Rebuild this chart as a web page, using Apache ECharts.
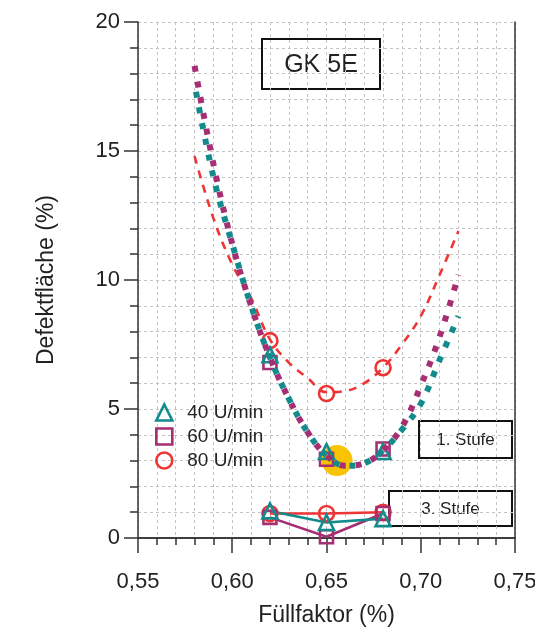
<!DOCTYPE html>
<html>
<head>
<meta charset="utf-8">
<script src="https://cdn.jsdelivr.net/npm/echarts@6/dist/echarts.min.js"></script>
<style>
  html, body { margin: 0; padding: 0; background: #fff; }
  #chart { width: 535px; height: 627px; }
</style>
</head>
<body>
<div id="chart"></div>
<script>
// Füllfaktor values where the samples were taken
const sampleX = [0.62, 0.65, 0.68]

// 1. Stufe measured points
const stufe1_40 = [7.1, 3.35, 3.35]
const stufe1_60 = [6.8, 3.05, 3.45]
const stufe1_80 = [7.65, 5.6, 6.6]

// 3. Stufe measured points
const stufe3_40 = [1.05, 0.6, 0.75]
const stufe3_60 = [0.8, 0.05, 0.95]
const stufe3_80 = [0.95, 0.95, 1.0]

// fitted curves
const fitX = [0.58, 0.59, 0.60, 0.61, 0.62, 0.63, 0.64, 0.65, 0.66, 0.67, 0.68, 0.69, 0.70, 0.71, 0.72]
const fit40 = [17.6, 14.0, 11.4, 9.0, 7.0, 5.4, 4.1, 3.2, 2.8, 2.9, 3.4, 4.2, 5.2, 6.9, 8.6]
const fit60 = [18.3, 14.5, 11.4, 9.0, 7.0, 5.4, 4.1, 3.2, 2.8, 2.9, 3.4, 4.3, 5.9, 7.8, 10.2]
const fit80 = [14.8, 12.4, 10.6, 9.3, 7.7, 6.8, 6.2, 5.65, 5.7, 6.0, 6.6, 7.5, 8.6, 10.2, 11.9]

// highlighted optimum
const optimum = [[0.6556, 3.0]]

const legendNames = ['40 U/min', '60 U/min', '80 U/min']

const TEAL = '#138b8c'
const PURPLE = '#a52f72'
const RED = '#ee3535'
const YELLOW = '#f8c300'
const FONT = '"Liberation Sans", Arial, sans-serif'

const pairs = (xs, ys) => xs.map((x, i) => [x, ys[i]])
const comma = (v, d) => v.toFixed(d).replace('.', ',')

const chart = echarts.init(document.getElementById('chart'))

const gridDash = { color: '#c4c4c4', width: 1, type: [3, 3] }
const frameLine = { color: '#333', width: 1.5 }

const markerStyle = (c) => ({ color: 'transparent', borderColor: c, borderWidth: 2.6, opacity: 1 })

// box with centred label, used for the annotations
const labelBox = (x, y, w, h, text, size) => ({
  type: 'group', z: 10,
  children: [
    { type: 'rect', shape: { x: x, y: y, width: w, height: h },
      style: { fill: '#fff', stroke: '#111', lineWidth: 2 } },
    { type: 'text', x: x + w / 2, y: y + h / 2 + 1,
      style: { text: text, font: size + 'px ' + FONT, fill: '#222',
               align: 'center', verticalAlign: 'middle' } }
  ]
})

const option = {
  animation: false,
  backgroundColor: '#fff',
  textStyle: { fontFamily: FONT },
  grid: { left: 138, right: 20, top: 22, bottom: 89, outerBoundsMode: 'none' },
  legend: {
    data: legendNames,
    orient: 'vertical',
    left: 150,
    top: 398,
    itemWidth: 16,
    itemHeight: 16,
    itemGap: 5,
    itemStyle: { borderWidth: 2.6, opacity: 1 },
    textStyle: { fontSize: 19, color: '#222', fontFamily: FONT, padding: [0, 0, 0, 10] }
  },
  xAxis: [
    {
      type: 'value',
      min: 0.55, max: 0.75, interval: 0.05,
      name: 'Füllfaktor (%)',
      nameLocation: 'middle',
      nameGap: 66,
      nameTextStyle: { fontSize: 23, color: '#222', fontFamily: FONT },
      axisLine: { lineStyle: frameLine },
      axisTick: { show: true, length: 15, lineStyle: frameLine },
      minorTick: { show: true, splitNumber: 5, length: 7, lineStyle: frameLine },
      axisLabel: { fontSize: 22, color: '#222', margin: 33, formatter: (v) => comma(v, 2) },
      splitLine: { show: true, lineStyle: gridDash },
      minorSplitLine: { show: true, lineStyle: gridDash }
    },
    {
      type: 'value', position: 'top',
      min: 0.55, max: 0.75, interval: 0.05,
      axisLine: { show: true, lineStyle: frameLine },
      axisTick: { show: false }, axisLabel: { show: false }, splitLine: { show: false }
    }
  ],
  yAxis: [
    {
      type: 'value',
      min: 0, max: 20, interval: 5,
      name: 'Defektfläche (%)',
      nameLocation: 'middle',
      nameGap: 80,
      nameTextStyle: { fontSize: 23, color: '#222', fontFamily: FONT },
      axisLine: { show: true, lineStyle: frameLine },
      axisTick: { show: true, length: 14, lineStyle: frameLine },
      minorTick: { show: true, splitNumber: 5, length: 8, lineStyle: frameLine },
      axisLabel: { fontSize: 22, color: '#222', margin: 18 },
      splitLine: { show: true, lineStyle: gridDash },
      minorSplitLine: { show: true, lineStyle: gridDash }
    },
    {
      type: 'value', position: 'right',
      min: 0, max: 20, interval: 5,
      axisLine: { show: true, lineStyle: frameLine },
      axisTick: { show: false }, axisLabel: { show: false }, splitLine: { show: false }
    }
  ],
  series: [
    {
      name: 'Optimum',
      type: 'scatter',
      data: optimum,
      symbolSize: 31,
      itemStyle: { color: YELLOW, opacity: 1 },
      z: 1
    },
    {
      name: 'Fit 80',
      type: 'line',
      data: pairs(fitX, fit80),
      smooth: 0.4,
      showSymbol: false,
      lineStyle: { color: RED, width: 2.6, type: [8, 7] }
    },
    {
      name: 'Fit 60',
      type: 'line',
      data: pairs(fitX, fit60),
      smooth: 0.4,
      showSymbol: false,
      lineStyle: { color: PURPLE, width: 6, type: [6, 10], dashOffset: 0 }
    },
    {
      name: 'Fit 40',
      type: 'line',
      data: pairs(fitX, fit40),
      smooth: 0.4,
      showSymbol: false,
      lineStyle: { color: TEAL, width: 6, type: [6, 10], dashOffset: 8 }
    },
    {
      name: '3. Stufe 80',
      type: 'line',
      data: pairs(sampleX, stufe3_80),
      symbol: 'circle', symbolSize: 15,
      lineStyle: { color: RED, width: 2.6 },
      itemStyle: markerStyle(RED)
    },
    {
      name: '3. Stufe 60',
      type: 'line',
      data: pairs(sampleX, stufe3_60),
      symbol: 'rect', symbolSize: 13,
      lineStyle: { color: PURPLE, width: 2.6 },
      itemStyle: markerStyle(PURPLE)
    },
    {
      name: '3. Stufe 40',
      type: 'line',
      data: pairs(sampleX, stufe3_40),
      symbol: 'triangle', symbolSize: 15,
      lineStyle: { color: TEAL, width: 2.6 },
      itemStyle: markerStyle(TEAL)
    },
    {
      name: '80 U/min',
      type: 'scatter',
      data: pairs(sampleX, stufe1_80),
      symbol: 'circle', symbolSize: 15,
      itemStyle: markerStyle(RED)
    },
    {
      name: '60 U/min',
      type: 'scatter',
      data: pairs(sampleX, stufe1_60),
      symbol: 'rect', symbolSize: 13,
      itemStyle: markerStyle(PURPLE)
    },
    {
      name: '40 U/min',
      type: 'scatter',
      data: pairs(sampleX, stufe1_40),
      symbol: 'triangle', symbolSize: 15,
      itemStyle: markerStyle(TEAL)
    }
  ],
  graphic: [
    labelBox(262, 39, 118, 50, 'GK 5E', 25),
    labelBox(419, 421, 93, 37, '1. Stufe', 17),
    labelBox(389, 491, 123, 35, '3. Stufe', 17)
  ]
}

chart.setOption(option)
</script>
</body>
</html>
